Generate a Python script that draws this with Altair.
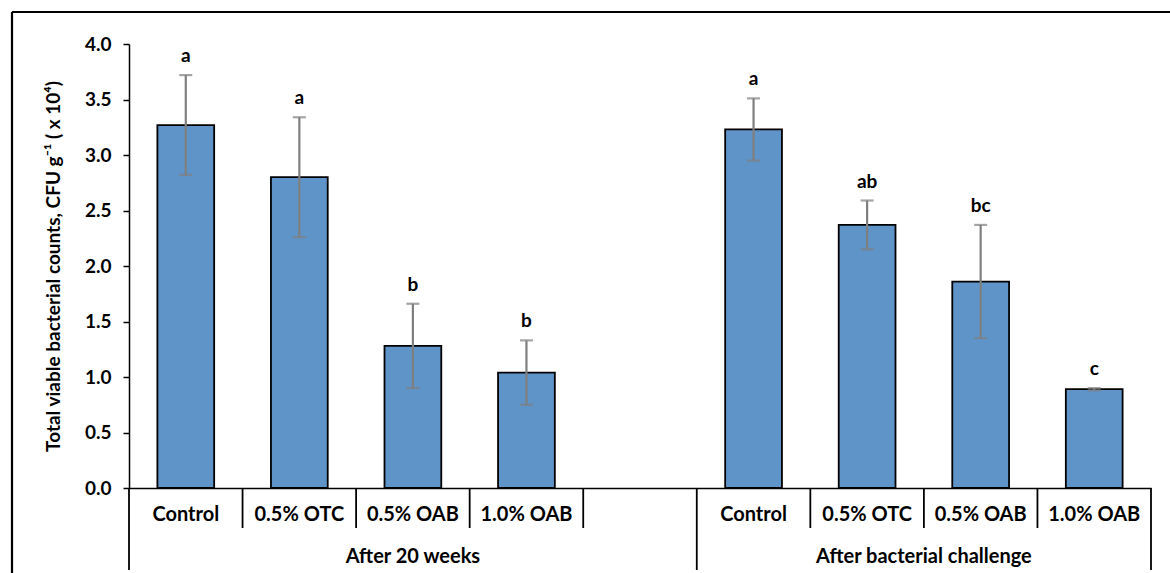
import altair as alt
import pandas as pd

# Treatment groups and treatments shown on the two-level category axis
groups = ["After 20 weeks", "After bacterial challenge"]
treatments = ["Control", "0.5% OTC", "0.5% OAB", "1.0% OAB"]

# Total viable bacterial counts (x 10^4 CFU/g), mean and error per treatment
means_20w = [3.27, 2.80, 1.28, 1.04]
err_20w = [0.45, 0.54, 0.38, 0.29]
means_challenge = [3.23, 2.37, 1.86, 0.89]
err_challenge = [0.28, 0.22, 0.51, 0.01]

# Significance letters above each bar
letters_20w = ["a", "a", "b", "b"]
letters_challenge = ["a", "ab", "bc", "c"]

FONT = "Lato"
BAR_COLOR = "#5f94c8"
ERR_COLOR = "#7f7f7f"

# Category slots: four treatments per group, with one empty slot after the first group
slots_20w = [f"{groups[0]}|{t}" for t in treatments]
slots_ch = [f"{groups[1]}|{t}" for t in treatments]
gap_slot = "gap"
slot_domain = slots_20w + [gap_slot] + slots_ch

rows = []
for slot, t, m, e, l in zip(slots_20w, treatments, means_20w, err_20w, letters_20w):
    rows.append(dict(slot=slot, treatment=t, mean=m, lo=m - e, hi=m + e, letter=l))
for slot, t, m, e, l in zip(slots_ch, treatments, means_challenge, err_challenge, letters_challenge):
    rows.append(dict(slot=slot, treatment=t, mean=m, lo=m - e, hi=m + e, letter=l))
df = pd.DataFrame(rows)

W, H = 1022, 444
PAD_L, PAD_T, PAD_R, PAD_B = 129, 44, 19, 85

label_expr = "indexof(datum.value, '|') >= 0 ? split(datum.value, '|')[1] : ''"

x_enc = alt.X(
    "slot:N",
    scale=alt.Scale(domain=slot_domain, paddingInner=0, paddingOuter=0),
    sort=slot_domain,
    axis=alt.Axis(
        title=None, labelExpr=label_expr, labelAngle=0, ticks=False, tickSize=0,
        labelPadding=16, labelFont=FONT, labelFontSize=20, labelFontWeight="bold",
        labelColor="black", domainColor="black", domainWidth=1.5, grid=False,
    ),
)
y_scale = alt.Scale(domain=[0, 4], nice=False, zero=True)
y_axis = alt.Axis(
    title="Total viable bacterial counts, CFU g⁻¹ ( x 10⁴)",
    values=[0, 0.5, 1.0, 1.5, 2.0, 2.5, 3.0, 3.5, 4.0], format=".1f",
    labelFont=FONT, labelFontSize=19, labelFontWeight="bold", labelColor="black",
    labelPadding=12, tickSize=6, tickColor="black", tickWidth=1.5,
    domainColor="black", domainWidth=1.5, grid=False,
    titleFont=FONT, titleFontSize=19, titleFontWeight="bold", titleColor="black",
    titlePadding=21,
)

base = alt.Chart(df)

bars = base.mark_bar(
    width=alt.RelativeBandSize(band=0.5), color=BAR_COLOR, stroke="black", strokeWidth=1.8
).encode(x=x_enc, y=alt.Y("mean:Q", scale=y_scale, axis=y_axis))

err_rule = base.mark_rule(color=ERR_COLOR, strokeWidth=2.2).encode(
    x=alt.X("slot:N", sort=slot_domain), y="lo:Q", y2="hi:Q"
)
cap_hi = base.mark_tick(color=ERR_COLOR, thickness=2.2, size=13, orient="horizontal").encode(
    x=alt.X("slot:N", sort=slot_domain), y="hi:Q"
)
cap_lo = base.mark_tick(color=ERR_COLOR, thickness=2.2, size=13, orient="horizontal").encode(
    x=alt.X("slot:N", sort=slot_domain), y="lo:Q"
)

letters = base.mark_text(
    font=FONT, fontSize=19, fontWeight="bold", color="black", baseline="bottom", dy=-9
).encode(x=alt.X("slot:N", sort=slot_domain), y="hi:Q", text="letter:N")

# Separators of the two-level category axis
short_slots = slot_domain[1:5] + slot_domain[6:]
short_sep = alt.Chart(pd.DataFrame({"slot": short_slots})).mark_rule(
    color="black", strokeWidth=1.8
).encode(
    x=alt.X("slot:N", sort=slot_domain, bandPosition=0),
    y=alt.value(H), y2=alt.value(H + 40),
)
full_start = alt.Chart(pd.DataFrame({"slot": [slot_domain[0], slot_domain[5]]})).mark_rule(
    color="black", strokeWidth=1.8
).encode(
    x=alt.X("slot:N", sort=slot_domain, bandPosition=0),
    y=alt.value(H), y2=alt.value(H + 82),
)
full_end = alt.Chart(pd.DataFrame({"slot": [slot_domain[-1]]})).mark_rule(
    color="black", strokeWidth=1.8
).encode(
    x=alt.X("slot:N", sort=slot_domain, bandPosition=1),
    y=alt.value(H), y2=alt.value(H + 82),
)

# Group labels centred under each group's span of slots
grp1 = alt.Chart(pd.DataFrame({"slot": [slot_domain[2]], "g": [groups[0]]})).mark_text(
    font=FONT, fontSize=20, fontWeight="bold", color="black", baseline="middle"
).encode(x=alt.X("slot:N", sort=slot_domain, bandPosition=0.5), y=alt.value(H + 69), text="g:N")
grp2 = alt.Chart(pd.DataFrame({"slot": [slot_domain[6]], "g": [groups[1]]})).mark_text(
    font=FONT, fontSize=20, fontWeight="bold", color="black", baseline="middle"
).encode(x=alt.X("slot:N", sort=slot_domain, bandPosition=1), y=alt.value(H + 69), text="g:N")

# Outer frame (top and left edges)
frame_top = alt.Chart(pd.DataFrame({"k": [0]})).mark_rule(color="black", strokeWidth=2.2).encode(
    x=alt.value(-117), x2=alt.value(W + PAD_R + 10), y=alt.value(-32)
)
frame_left = alt.Chart(pd.DataFrame({"k": [0]})).mark_rule(color="black", strokeWidth=2.2).encode(
    x=alt.value(-117), y=alt.value(-32), y2=alt.value(H + PAD_B + 10)
)

chart = alt.layer(
    bars, err_rule, cap_hi, cap_lo, letters,
    short_sep, full_start, full_end, grp1, grp2, frame_top, frame_left,
).properties(
    width=W, height=H,
    autosize=alt.AutoSizeParams(type="none"),
    padding={"left": PAD_L, "top": PAD_T, "right": PAD_R, "bottom": PAD_B},
    background="white",
).configure_view(stroke=None)

chart.save("out.html", embed_options={"renderer": "svg", "actions": False})
